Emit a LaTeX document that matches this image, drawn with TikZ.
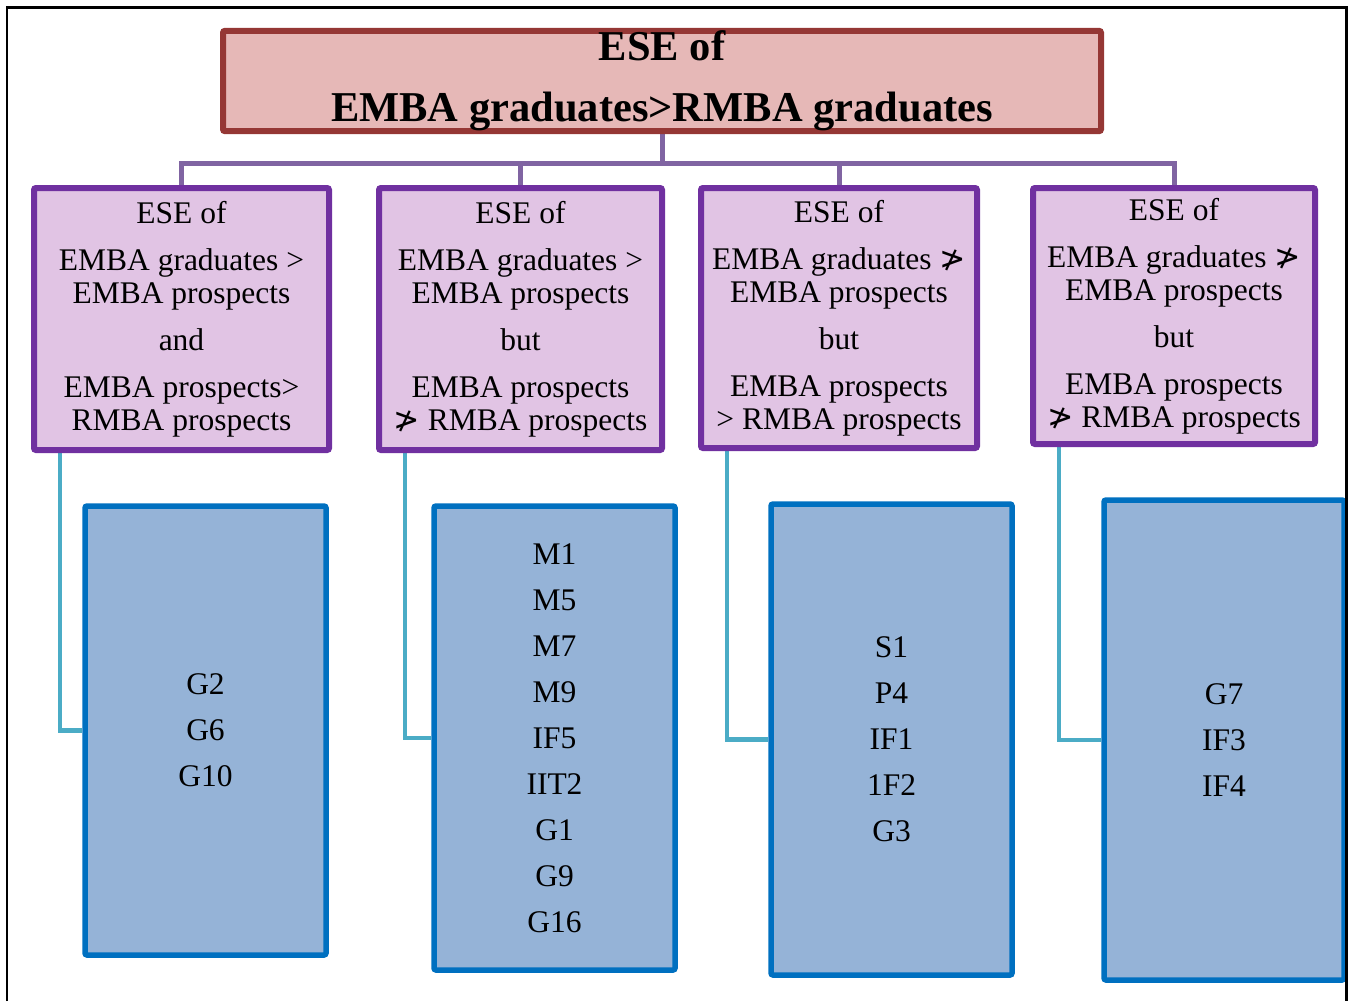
\documentclass[tikz,border=0pt]{standalone}
\usepackage{fontspec}
\setmainfont{Liberation Serif}
\newfontfamily\symfont{DejaVu Sans}
\usetikzlibrary{backgrounds}
\definecolor{ttlline}{HTML}{953735}
\definecolor{ttlfill}{HTML}{E6B8B7}
\definecolor{grpline}{HTML}{7030A0}
\definecolor{grpfill}{HTML}{E1C4E4}
\definecolor{itemline}{HTML}{0070C0}
\definecolor{itemfill}{HTML}{95B3D7}
\definecolor{busline}{HTML}{8064A2}
\definecolor{linkline}{HTML}{4BACC6}
\newcommand{\notgt}{{\symfont ≯}}

\begin{document}
\begin{tikzpicture}[x=1pt,y=-1pt,
  ttlbox/.style={draw=ttlline, fill=ttlfill, line width=6pt, rounded corners=2pt, inner sep=0pt, align=center, font=\fontsize{42.5}{60}\selectfont\bfseries},
  grpbox/.style={draw=grpline, fill=grpfill, line width=6pt, rounded corners=2pt, inner sep=0pt, align=center, font=\fontsize{31.5}{33}\selectfont},
  itembox/.style={draw=itemline, fill=itemfill, line width=5.5pt, rounded corners=2pt, inner sep=0pt, align=center, minimum width=241pt, font=\fontsize{31.5}{46}\selectfont},
  bus/.style={draw=busline, line width=5pt},
  link/.style={draw=linkline, line width=4.5pt}]
\useasboundingbox (0,0) rectangle (1354,1001);

\node[ttlbox, minimum width=878pt, minimum height=100pt] (ttl) at (662,81) {ESE of\\[1pt]EMBA graduates>RMBA graduates};

\node[grpbox, minimum width=295pt, minimum height=262pt] (g1) at (181.5,319) {ESE of\\[14pt]EMBA graduates >\\EMBA prospects\\[14pt]and\\[14pt]EMBA prospects>\\RMBA prospects};
\node[grpbox, minimum width=283pt, minimum height=262pt] (g2) at (520.5,319) {ESE of\\[14pt]EMBA graduates >\\EMBA prospects\\[14pt]but\\[14pt]EMBA prospects\\\notgt{} RMBA prospects};
\node[grpbox, minimum width=276pt, minimum height=260pt] (g3) at (839,318) {ESE of\\[14pt]EMBA graduates \notgt\\EMBA prospects\\[14pt]but\\[14pt]EMBA prospects\\> RMBA prospects};
\node[grpbox, minimum width=282pt, minimum height=256pt] (g4) at (1174,316) {ESE of\\[14pt]EMBA graduates \notgt\\EMBA prospects\\[14pt]but\\[14pt]EMBA prospects\\\notgt{} RMBA prospects};

\node[itembox, minimum height=449pt] (it1) at (205.5,730.5) {G2\\G6\\G10};
\node[itembox, minimum height=464pt] (it2) at (554.5,738) {M1\\M5\\M7\\M9\\IF5\\IIT2\\G1\\G9\\G16};
\node[itembox, minimum height=471pt] (it3) at (891.5,739.5) {S1\\P4\\IF1\\1F2\\G3};
\node[itembox, minimum width=240pt, minimum height=480pt] (it4) at (1224,740) {G7\\IF3\\IF4};

\begin{scope}[on background layer]
\coordinate (busmid) at ([yshift=-29pt]ttl.south);
\draw[bus] (ttl.south) -- (busmid);
\draw[bus] (g1.north) |- (busmid);
\draw[bus] (g2.north) |- (busmid);
\draw[bus] (g3.north) |- (busmid);
\draw[bus] (g4.north) |- (busmid);

\draw[link] ([xshift=29pt]g1.south west) |- (it1.west);
\draw[link] ([xshift=29pt]g2.south west) |- (it2.west);
\draw[link] ([xshift=29pt]g3.south west) |- (it3.west);
\draw[link] ([xshift=29pt]g4.south west) |- (it4.west);
\end{scope}

% outer frame, open at the bottom
\draw[line width=2.5pt] (7,1001) -- (7,7.5) -- (1346.5,7.5) -- (1346.5,1001);
\end{tikzpicture}
\end{document}
